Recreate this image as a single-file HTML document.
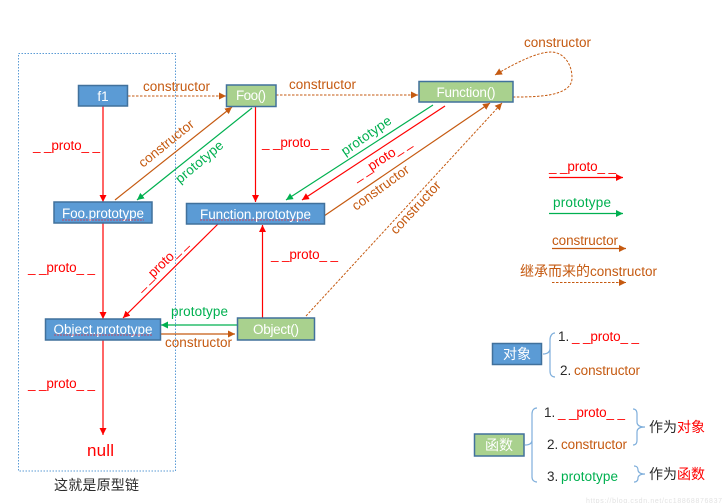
<!DOCTYPE html>
<html><head><meta charset="utf-8">
<style>
html,body{margin:0;padding:0;background:#fff;width:725px;height:503px;overflow:hidden}
svg{display:block}
text{font-family:"Liberation Sans","Noto Sans CJK SC",sans-serif;font-size:13.5px}
.o{fill:#C55A11}.g{fill:#00B050}.r{fill:#FF0000}.k{fill:#2a2a2a}
.w{fill:#fff;text-anchor:middle}
.bb{fill:#5B9BD5;stroke:#41719C;stroke-width:1.5}
.gb{fill:#A9D18E;stroke:#41719C;stroke-width:1.5}
.lr{stroke:#FF0000;stroke-width:1.2;fill:none}
.lg{stroke:#00B050;stroke-width:1.2;fill:none}
.lo{stroke:#C55A11;stroke-width:1.2;fill:none}
.ld{stroke:#C55A11;stroke-width:1;stroke-dasharray:2.5 1.5;fill:none}
.br{stroke:#7EAEDB;stroke-width:1.2;fill:none}
.sq{stroke:#E03040;stroke-width:.8;stroke-dasharray:2 1;fill:none}
</style></head><body>
<svg width="725" height="503" viewBox="0 0 725 503" xmlns="http://www.w3.org/2000/svg">
<defs>
<marker id="mr" markerUnits="userSpaceOnUse" markerWidth="8" markerHeight="8" refX="7" refY="3.5" orient="auto"><path d="M0 0L7 3.5L0 7z" fill="#FF0000"/></marker>
<marker id="mg" markerUnits="userSpaceOnUse" markerWidth="8" markerHeight="8" refX="7" refY="3.5" orient="auto"><path d="M0 0L7 3.5L0 7z" fill="#00B050"/></marker>
<marker id="mo" markerUnits="userSpaceOnUse" markerWidth="8" markerHeight="8" refX="7" refY="3.5" orient="auto"><path d="M0 0L7 3.5L0 7z" fill="#C55A11"/></marker>
</defs>

<rect x="18.5" y="53.5" width="157" height="417.5" fill="none" stroke="#5B9BD5" stroke-width="1" stroke-dasharray="1.5 1.5"/>

<!-- connectors -->
<line class="lr" x1="103" y1="106" x2="103" y2="202" marker-end="url(#mr)"/>
<line class="ld" x1="128" y1="96" x2="226" y2="96" marker-end="url(#mo)"/>
<line class="lo" x1="115" y1="200" x2="232" y2="107" marker-end="url(#mo)"/>
<line class="lg" x1="252" y1="108" x2="137" y2="200" marker-end="url(#mg)"/>
<line class="ld" x1="276" y1="95" x2="418" y2="95" marker-end="url(#mo)"/>
<line class="lr" x1="255.5" y1="107" x2="255.5" y2="202" marker-end="url(#mr)"/>
<line class="lg" x1="433" y1="105" x2="286" y2="200" marker-end="url(#mg)"/>
<line class="lr" x1="445" y1="106" x2="302" y2="200" marker-end="url(#mr)"/>
<line class="lo" x1="324" y1="216" x2="490" y2="103" marker-end="url(#mo)"/>
<line class="ld" x1="306" y1="316" x2="502" y2="103" marker-end="url(#mo)"/>
<path class="ld" d="M513 97C535 97 572 97 572 78C572 62 562 52 551 52C536 52 512 65 495 75" marker-end="url(#mo)"/>
<line class="lr" x1="103" y1="223" x2="103" y2="319" marker-end="url(#mr)"/>
<line class="lr" x1="218" y1="224" x2="123" y2="318" marker-end="url(#mr)"/>
<line class="lr" x1="262.5" y1="318" x2="262.5" y2="225" marker-end="url(#mr)"/>
<line class="lg" x1="237" y1="325" x2="161" y2="325" marker-end="url(#mg)"/>
<line class="lo" x1="160" y1="334" x2="235" y2="334" marker-end="url(#mo)"/>
<line class="lr" x1="103" y1="340" x2="103" y2="435" marker-end="url(#mr)"/>

<!-- nodes -->
<rect class="bb" x="78.5" y="85.5" width="49" height="20.5"/>
<text class="w" x="103" y="101">f1</text>
<rect class="gb" x="226.5" y="85" width="49.5" height="21.5"/>
<text class="w" x="251" y="100" textLength="30">Foo()</text>
<rect class="gb" x="419" y="81.5" width="94" height="20.5"/>
<text class="w" x="466" y="97" textLength="59">Function()</text>
<rect class="bb" x="54" y="202" width="98" height="21"/>
<text class="w" x="103" y="218" textLength="82">Foo.prototype</text>
<path class="sq" d="M62 220H144"/>
<rect class="bb" x="186.5" y="203.5" width="138" height="20.5"/>
<text class="w" x="255.5" y="219" textLength="111">Function.prototype</text>
<path class="sq" d="M200 220H311"/>
<rect class="bb" x="45.5" y="319" width="115" height="21"/>
<text class="w" x="103" y="334" textLength="99">Object.prototype</text>
<path class="sq" d="M54 335H153"/>
<rect class="gb" x="237.5" y="318" width="77" height="22"/>
<text class="w" x="276" y="334" textLength="46">Object()</text>

<!-- connector labels -->
<text class="o" x="143" y="91" textLength="67">constructor</text>
<text class="o" x="289" y="89" textLength="67">constructor</text>
<text class="o" x="524" y="47" textLength="67">constructor</text>
<text class="r" x="33" y="150" textLength="67">_ _proto_ _</text>
<text class="r" x="262" y="147" textLength="67">_ _proto_ _</text>
<text class="r" x="28" y="272" textLength="67">_ _proto_ _</text>
<text class="r" x="271" y="259" textLength="67">_ _proto_ _</text>
<text class="r" x="28" y="388" textLength="67">_ _proto_ _</text>
<text class="g" x="171" y="316" textLength="57">prototype</text>
<text class="o" x="165" y="347" textLength="67">constructor</text>
<text class="r" x="87" y="456" style="font-size:17px" textLength="27">null</text>
<text class="k" x="54" y="490" style="font-size:14px" textLength="85">这就是原型链</text>

<text class="o" transform="translate(143,168) rotate(-39)" textLength="67">constructor</text>
<text class="g" transform="translate(180,184) rotate(-40)" textLength="58">prototype</text>
<text class="g" transform="translate(345,156) rotate(-35)" textLength="58">prototype</text>
<text class="r" transform="translate(356,181) rotate(-33)" textLength="67">_ _proto_ _</text>
<text class="o" transform="translate(356,211) rotate(-36)" textLength="67">constructor</text>
<text class="o" transform="translate(396,235) rotate(-47)" textLength="67">constructor</text>
<text class="r" transform="translate(140,291) rotate(-44)" textLength="67">_ _proto_ _</text>

<!-- legend -->
<text class="r" x="549" y="171" textLength="67">_ _proto_ _</text>
<line class="lr" x1="549" y1="177.5" x2="623" y2="177.5" marker-end="url(#mr)"/>
<text class="g" x="553" y="207" textLength="58">prototype</text>
<line class="lg" x1="549" y1="213.5" x2="623" y2="213.5" marker-end="url(#mg)"/>
<text class="o" x="552" y="245" textLength="66">constructor</text>
<line class="lo" x1="552" y1="248.5" x2="626" y2="248.5" marker-end="url(#mo)"/>
<text class="o" x="520" y="276" style="font-size:14px" textLength="70">继承而来的</text>
<text class="o" x="590" y="276" textLength="67">constructor</text>
<line class="ld" x1="552" y1="282.5" x2="626" y2="282.5" marker-end="url(#mo)"/>

<!-- object key -->
<rect class="bb" x="492.5" y="343.5" width="49" height="21"/>
<text class="w" x="517" y="359" style="font-size:14px">对象</text>
<path class="br" d="M543 354C548 354 550 352 550 348V340C550 336 552 333 555 333M550 360V371C550 375 552 377 555 377M550 348V360"/>
<text class="k" x="558" y="341">1.</text>
<text class="r" x="572" y="341" textLength="67">_ _proto_ _</text>
<text class="k" x="560" y="375">2.</text>
<text class="o" x="574" y="375" textLength="66">constructor</text>

<!-- function key -->
<rect class="gb" x="474.5" y="434" width="49.5" height="22"/>
<text class="w" x="499" y="450" style="font-size:14px">函数</text>
<path class="br" d="M525 445C530 445 532 443 532 440V414C532 410 534 408 537 408M532 450V477C532 480 534 482 537 482M532 440V450"/>
<text class="k" x="544" y="417">1.</text>
<text class="r" x="558" y="417" textLength="67">_ _proto_ _</text>
<text class="k" x="547" y="449">2.</text>
<text class="o" x="561" y="449" textLength="66">constructor</text>
<text class="k" x="547" y="481">3.</text>
<text class="g" x="561" y="481" textLength="57">prototype</text>
<path class="br" d="M633 409C636 409 637 411 637 414V422C637 425 639 427 645 427C639 427 637 429 637 432V440C637 443 636 445 633 445"/>
<path class="br" d="M634 466C637 466 638 468 638 470C638 472 640 474 645 474C640 474 638 476 638 478C638 480 637 482 634 482"/>
<text class="k" x="649" y="432" style="font-size:14px">作为<tspan class="r">对象</tspan></text>
<text class="k" x="649" y="479" style="font-size:14px">作为<tspan class="r">函数</tspan></text>

<text x="586" y="503" style="font-size:7px;fill:#e2e2e2" textLength="136">https://blog.csdn.net/cc18868876837</text>
</svg>
</body></html>
